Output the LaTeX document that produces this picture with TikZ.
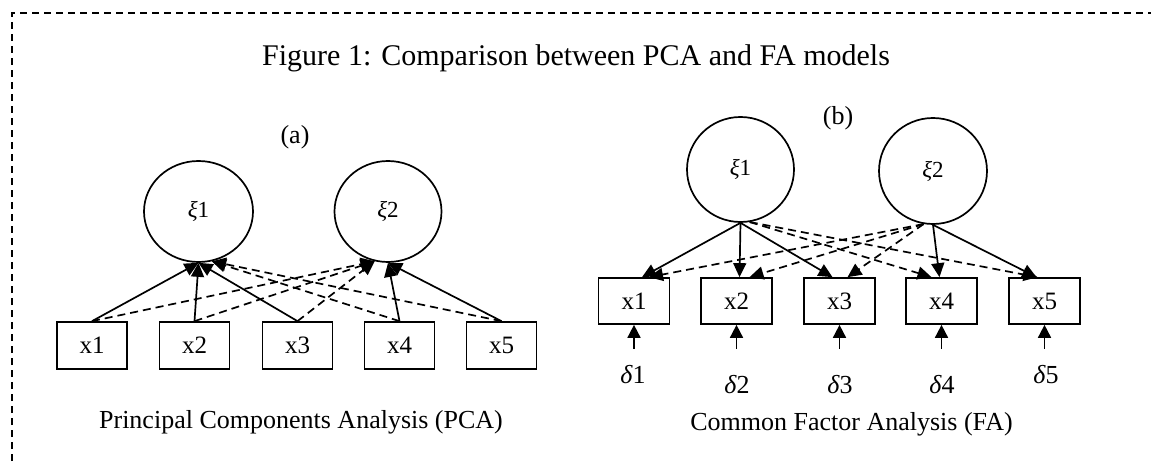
\documentclass[tikz,border=0pt]{standalone}
\usepackage{fontspec}
\setmainfont{Liberation Serif}
\usetikzlibrary{arrows.meta,shapes.geometric}
\begin{document}
\begin{tikzpicture}[x=1pt,y=1pt,
  lat/.style={ellipse, draw, line width=1.7pt, inner sep=0pt, font=\fontsize{23}{25}\selectfont},
  obs/.style={rectangle, draw, line width=1.7pt, minimum width=70pt, minimum height=47pt, inner sep=0pt, font=\fontsize{25}{27}\selectfont},
  load/.style={line width=1.7pt, -{Triangle[length=14pt,width=13pt]}},
  cross/.style={load, dash pattern=on 8pt off 5pt},
  err/.style={line width=1.7pt, -{Triangle[length=13pt,width=13pt]}},
  errlab/.style={font=\fontsize{26}{28}\selectfont, anchor=base},
  panel/.style={font=\fontsize{26}{28}\selectfont},
  subcap/.style={font=\fontsize{26}{28}\selectfont, anchor=base},
  frame/.style={line width=1.6pt, dash pattern=on 7pt off 5pt}
]
\useasboundingbox (0,0) rectangle (1151,461);

% dashed frame (top and left edges)
\draw[frame] (12,0) -- (12,448) -- (1151,448);

% title
\node[anchor=base west, inner sep=0pt, font=\fontsize{30}{32}\selectfont] (title) at (262,395)
  {Figure 1: Comparison between PCA and FA models};

% ---------- (a) principal components ----------
\node[panel] (la) at (295,324) {(a)};
\node[lat, minimum width=109pt, minimum height=101pt] (p1) at (198.5,249.5) {\textit{ξ}1};
\node[lat, minimum width=107pt, minimum height=101pt] (p2) at (388,249.5) {\textit{ξ}2};
\foreach \i/\x in {1/92,2/194.5,3/297.5,4/399.5,5/501.5}
  \node[obs] (a\i) at (\x,115.5) {x\i};

\draw[load] (a1.north) -- (p1.south);
\draw[load] (a2.north) -- (p1.south);
\draw[load] (a3.north) -- (p1.south);
\draw[cross] (a4.north) -- (p1.-75);
\draw[cross] (a5.north) -- (p1.-75);
\draw[cross] (a1.north) -- (p2.-105);
\draw[cross] (a2.north) -- (p2.-105);
\draw[cross] (a3.north) -- (p2.-105);
\draw[load] (a4.north) -- (p2.south);
\draw[load] (a5.north) -- (p2.south);

\node[subcap] (capa) at (301,33) {Principal Components Analysis (PCA)};

% ---------- (b) common factors ----------
\node[panel] (lb) at (838,343) {(b)};
\node[lat, minimum width=107pt, minimum height=105pt] (f1) at (740.5,291.5) {\textit{ξ}1};
\node[lat, minimum width=108pt, minimum height=106pt] (f2) at (933,290) {\textit{ξ}2};
\foreach \i/\x in {1/634,2/736.5,3/839.5,4/941.5,5/1044.5}
  \node[obs, minimum width=71pt, minimum height=46pt] (b\i) at (\x,160) {x\i};

\draw[load] (f1.south) -- ([xshift=8pt]b1.north);
\draw[load] (f1.south) -- ([xshift=3pt]b2.north);
\draw[load] (f1.south) -- ([xshift=-7pt]b3.north);
\draw[cross] (f1.-80) -- ([xshift=-10pt]b4.north);
\draw[cross] (f1.-80) -- ([xshift=-7pt]b5.north);
\draw[cross] (f2.-100) -- ([xshift=15pt]b1.north);
\draw[cross] (f2.-100) -- ([xshift=13pt]b2.north);
\draw[cross] (f2.-100) -- ([xshift=8pt]b3.north);
\draw[load] (f2.south) -- ([xshift=-2pt]b4.north);
\draw[load] (f2.south) -- ([xshift=-8pt]b5.north);

% unique factors
\foreach \i in {1,...,5}{
  \coordinate (e\i) at ([yshift=-24pt]b\i.south);
  \draw[err] (e\i) -- (b\i.south);
}
\foreach \i/\x/\y in {1/633/78,2/737/68,3/840/68,4/942/68,5/1046/78}
  \node[errlab] (d\i) at (\x,\y) {\textit{δ}\i};

\node[subcap] (capb) at (851.5,31) {Common Factor Analysis (FA)};
\end{tikzpicture}
\end{document}
